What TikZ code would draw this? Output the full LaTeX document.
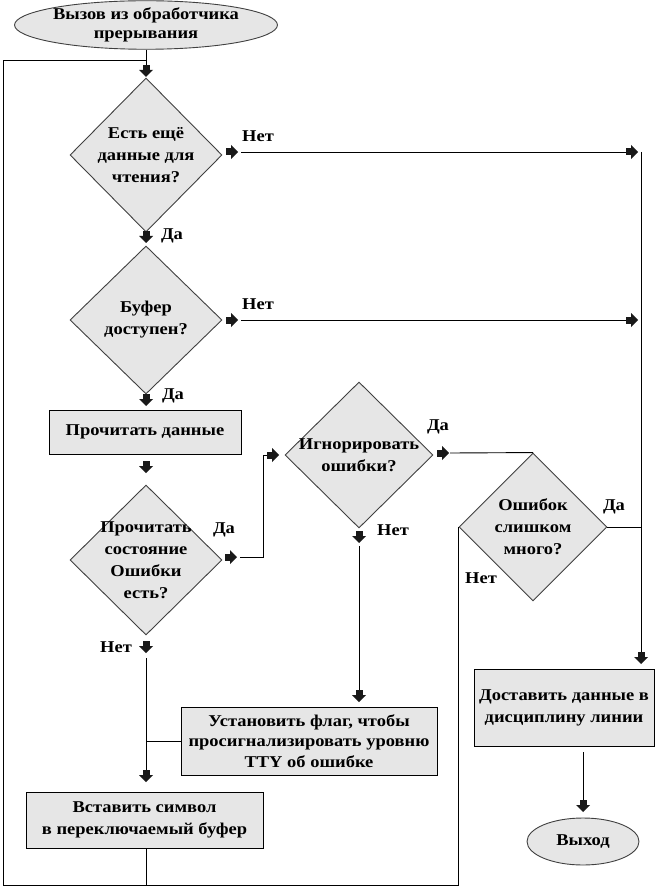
\documentclass[tikz,border=0pt]{standalone}
\usepackage{fontspec}
\setmainfont{Liberation Serif}[FakeStretch=1.12]
\usetikzlibrary{shapes.geometric}
\definecolor{boxfill}{HTML}{E6E6E6}
\definecolor{dline}{HTML}{404040}
\tikzset{
  base/.style={font=\fontsize{16.5}{22}\selectfont\bfseries, align=center, inner sep=0pt},
  dia/.style={shape=diamond, draw=dline, fill=boxfill, inner sep=0pt, line width=0.9pt},
  dtext/.style={base},
  proc/.style={base, draw=black, fill=boxfill, line width=0.9pt},
  term/.style={base, shape=ellipse, draw=dline, fill=boxfill, line width=0.9pt},
  lab/.style={base},
  conn/.style={line width=0.9pt, draw=black},
  mkd/.pic={\fill[black!90] (-3.5,-5) rectangle (3.5,0.5); \fill[black!90] (-7,0) -- (7,0) -- (0,7) -- cycle;},
  mkr/.pic={\fill[black!90] (-5,-3.5) rectangle (0.5,3.5); \fill[black!90] (0,-7) -- (0,7) -- (7,0) -- cycle;}
}
\begin{document}
\begin{tikzpicture}[x=1pt,y=-1pt]
\useasboundingbox (0,0) rectangle (657,890);
% nodes
\node[term, minimum width=250, minimum height=40, font=\fontsize{16.5}{19}\selectfont\bfseries] (start) at (146,25) {Вызов из обработчика\\прерывания};
\node[dia, minimum width=152, minimum height=154] (d1) at (146,155) {};
\node[dtext] (t1) at (d1) {Есть ещё\\данные для\\чтения?};
\node[dia, minimum width=152, minimum height=148] (d2) at (146,320) {};
\node[dtext] (t2) at (d2) {Буфер\\доступен?};
\node[proc, minimum width=192, minimum height=44] (p1) at (145,432) {Прочитать данные};
\node[dia, minimum width=152, minimum height=150] (d3) at (146,560) {};
\node[dtext] (t3) at (d3) {Прочитать\\состояние\\Ошибки\\есть?};
\node[dia, minimum width=148, minimum height=146] (d4) at (359,455) {};
\node[dtext] (t4) at (d4) {Игнорировать\\ошибки?};
\node[dia, minimum width=148, minimum height=148] (d5) at (533,527) {};
\node[dtext] (t5) at (d5) {Ошибок\\слишком\\много?};
\node[proc, minimum width=256, minimum height=68, font=\fontsize{16.5}{20.5}\selectfont\bfseries] (b2) at (309,741) {Установить флаг, чтобы\\просигнализировать уровню\\TTY об ошибке};
\node[proc, minimum width=237, minimum height=56] (b3) at (144.5,820) {Вставить символ\\в переключаемый буфер};
\node[proc, minimum width=180, minimum height=77] (b4) at (564,707.5) {Доставить данные в\\дисциплину линии};
\node[term, minimum width=112, minimum height=47] (fin) at (583,841.5) {Выход};
% labels
\node[lab] (l1) at (258,136) {Нет};
\node[lab] (l2) at (258,304) {Нет};
\node[lab] (l3) at (172,236) {Да};
\node[lab] (l4) at (173,396) {Да};
\node[lab] (l5) at (224,530) {Да};
\node[lab] (l6) at (116,647) {Нет};
\node[lab] (l7) at (438,427) {Да};
\node[lab] (l8) at (393,530) {Нет};
\node[lab] (l9) at (614,507) {Да};
\node[lab] (l10) at (481,578) {Нет};
% coordinates
\coordinate (top) at (146,60);
\coordinate (a0) at (146,70);
\coordinate (lt) at (3,60);
\coordinate (lb) at (3,885);
\coordinate (r1) at (631,152);
\coordinate (r2) at (631,320);
\coordinate (rt) at (641,152);
\coordinate (a4) at (641,657);
\coordinate (e1) at (241,152);
\coordinate (e2) at (241,320);
\coordinate (ay1) at (146,236);
\coordinate (ay2) at (146,399);
\coordinate (ap) at (146,466);
\coordinate (an3) at (146,646);
\coordinate (s3) at (146,658);
\coordinate (ab3) at (146,775);
\coordinate (j3) at (146,741);
\coordinate (ar3) at (230,557);
\coordinate (x3a) at (240,557);
\coordinate (x3b) at (263,557);
\coordinate (x3c) at (263,455);
\coordinate (ar4) at (272,455);
\coordinate (an4) at (359,536);
\coordinate (s4) at (359,546);
\coordinate (ab2) at (359,695);
\coordinate (ay4) at (442,453);
\coordinate (y4) at (450,453);
\coordinate (d5r) at (641,527);
\coordinate (b4e) at (583,752);
\coordinate (afin) at (583,805);
% connectors
\draw[conn] (start.south) -- (a0);
\draw[conn] (lb) -- (lt) -- (top);
\draw[conn] (b3.south -| s3) -- (s3 |- lb);
\draw[conn] (lb) -- (d5.west |- lb) -- (d5.west);
\draw[conn] (e1) -- (r1);
\draw[conn] (e2) -- (r2);
\draw[conn] (rt) -- (a4);
\draw[conn] (d5.east) -- (d5r);
\draw[conn] (s3) -- (ab3);
\draw[conn] (j3) -- (b2.west);
\draw[conn] (x3a) -- (x3b) -- (x3c) -- (ar4);
\draw[conn] (s4) -- (ab2);
\draw[conn] (y4) -- (d5.north);
\draw[conn] (b4e) -- (afin);
% arrow markers
\pic at (a0) {mkd};
\pic at (ay1) {mkd};
\pic at (ay2) {mkd};
\pic at (ap) {mkd};
\pic at (an3) {mkd};
\pic at (ab3) {mkd};
\pic at (an4) {mkd};
\pic at (ab2) {mkd};
\pic at (a4) {mkd};
\pic at (afin) {mkd};
\pic at (231,152) {mkr};
\pic at (231,320) {mkr};
\pic at (r1) {mkr};
\pic at (r2) {mkr};
\pic at (ar3) {mkr};
\pic at (ar4) {mkr};
\pic at (ay4) {mkr};
\end{tikzpicture}
\end{document}
